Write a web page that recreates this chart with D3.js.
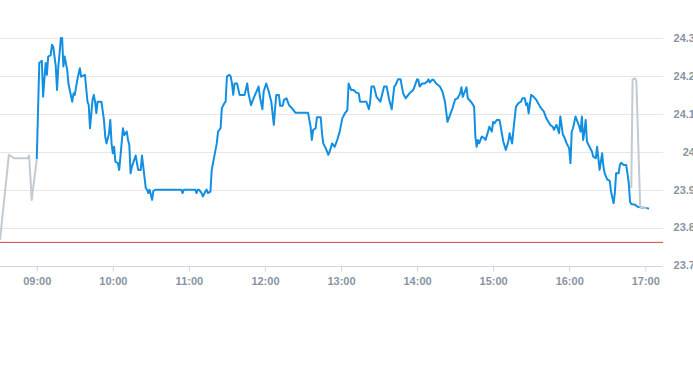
<!DOCTYPE html>
<html>
<head>
<meta charset="utf-8">
<script src="https://cdn.jsdelivr.net/npm/d3@7"></script>
<style>
  body { margin: 0; background: #fff; }
  svg { display: block; }
  .tick-label { font-family: "Liberation Sans", Arial, sans-serif; font-size: 11px; fill: #8794a3; font-weight: bold; }
</style>
</head>
<body>
<script>
// main session (blue)
const mainTimes = ["09:00","09:02","09:04","09:05","09:07","09:08","09:09","09:11","09:12","09:13","09:14","09:15","09:16","09:17","09:18","09:19","09:20","09:21","09:22","09:24","09:25","09:26","09:28","09:29","09:30","09:32","09:34","09:35","09:38","09:40","09:41","09:42","09:44","09:45","09:46","09:47","09:48","09:51","09:53","09:54","09:55","09:57","09:58","09:59","10:00","10:01","10:02","10:04","10:05","10:06","10:08","10:09","10:11","10:12","10:13","10:14","10:15","10:16","10:18","10:20","10:22","10:23","10:26","10:27","10:28","10:29","10:31","10:32","10:34","10:54","10:55","10:56","11:05","11:06","11:07","11:08","11:10","11:11","11:13","11:14","11:15","11:17","11:18","11:20","11:22","11:23","11:25","11:26","11:28","11:29","11:30","11:32","11:33","11:34","11:35","11:36","11:38","11:40","11:44","11:46","11:47","11:49","11:51","11:55","11:56","11:58","11:59","12:01","12:03","12:05","12:07","12:08","12:09","12:11","12:12","12:14","12:15","12:17","12:19","12:22","12:24","12:34","12:36","12:37","12:38","12:40","12:41","12:44","12:45","12:46","12:48","12:50","12:51","12:53","12:55","12:57","12:59","13:01","13:03","13:05","13:06","13:08","13:10","13:12","13:14","13:15","13:20","13:22","13:23","13:24","13:26","13:28","13:31","13:34","13:36","13:38","13:40","13:42","13:43","13:45","13:47","13:49","13:51","13:54","13:57","13:58","14:00","14:01","14:02","14:04","14:06","14:08","14:09","14:10","14:12","14:13","14:15","14:18","14:20","14:22","14:24","14:25","14:28","14:30","14:32","14:34","14:35","14:36","14:39","14:40","14:43","14:45","14:46","14:47","14:48","14:49","14:51","14:53","14:54","14:56","14:57","14:59","15:00","15:01","15:03","15:05","15:06","15:08","15:10","15:12","15:13","15:15","15:16","15:18","15:20","15:22","15:23","15:25","15:26","15:27","15:28","15:30","15:32","15:34","15:37","15:40","15:42","15:45","15:47","15:48","15:50","15:52","15:53","15:55","15:56","15:58","16:00","16:01","16:02","16:03","16:05","16:06","16:08","16:09","16:10","16:11","16:12","16:13","16:14","16:16","16:18","16:19","16:21","16:22","16:23","16:24","16:26","16:27","16:28","16:30","16:32","16:33","16:35","16:36","16:37","16:39","16:40","16:41","16:43","16:45","16:47","16:48","16:49","16:52","16:54","16:57","17:00","17:03"];
const mainPrices = [23.98,24.234,24.24,24.145,24.234,24.203,24.251,24.255,24.282,24.277,24.251,24.225,24.163,24.225,24.26,24.3,24.3,24.225,24.251,24.216,24.18,24.163,24.132,24.154,24.15,24.19,24.22,24.198,24.203,24.132,24.123,24.062,24.137,24.15,24.132,24.102,24.132,24.132,24.084,24.04,24.022,24.048,24.084,24.022,23.996,24.013,23.974,23.97,23.952,23.987,24.062,24.044,24.053,24.031,24.018,23.943,23.96,23.97,23.99,23.952,23.952,23.99,23.904,23.9,23.891,23.9,23.873,23.897,23.9,23.9,23.891,23.9,23.9,23.891,23.9,23.9,23.891,23.882,23.895,23.9,23.891,23.895,23.952,23.987,24.022,24.053,24.062,24.115,24.128,24.132,24.198,24.203,24.198,24.18,24.15,24.18,24.18,24.15,24.15,24.18,24.154,24.123,24.141,24.172,24.145,24.112,24.159,24.18,24.159,24.132,24.071,24.115,24.15,24.15,24.121,24.121,24.137,24.141,24.123,24.112,24.103,24.103,24.066,24.031,24.057,24.062,24.091,24.091,24.049,24.022,24.009,23.992,24.0,24.022,24.013,24.031,24.053,24.088,24.101,24.11,24.18,24.163,24.163,24.156,24.154,24.132,24.132,24.112,24.132,24.172,24.172,24.145,24.132,24.172,24.172,24.137,24.112,24.172,24.176,24.191,24.191,24.154,24.141,24.154,24.163,24.172,24.191,24.19,24.172,24.18,24.18,24.185,24.191,24.183,24.19,24.19,24.18,24.172,24.159,24.132,24.079,24.088,24.115,24.138,24.141,24.154,24.17,24.145,24.17,24.141,24.13,24.119,24.04,24.013,24.031,24.022,24.04,24.036,24.031,24.053,24.066,24.053,24.079,24.075,24.084,24.084,24.066,24.027,24.005,24.027,24.049,24.022,24.057,24.119,24.128,24.132,24.141,24.141,24.123,24.128,24.101,24.15,24.145,24.137,24.119,24.106,24.088,24.071,24.066,24.058,24.071,24.049,24.093,24.045,24.04,24.022,24.009,23.97,24.053,24.062,24.093,24.084,24.066,24.053,24.093,24.031,24.053,24.084,24.027,24.013,24.0,23.987,23.983,24.013,23.983,23.952,23.996,23.961,23.943,23.927,23.923,23.895,23.864,23.891,23.943,23.943,23.965,23.971,23.965,23.965,23.917,23.868,23.862,23.86,23.855,23.853,23.852,23.85];

// pre / post trading (grey)
const preTimes = ["08:31","08:38","08:39","08:42","08:53","08:54","08:56","09:00"];
const prePrices = [23.767,23.992,23.99,23.983,23.983,23.99,23.873,23.98];
const postTimes = ["16:49","16:50","16:52","16:53","16:56","17:01"];
const postPrices = [23.904,24.19,24.194,24.185,23.855,23.85];

const prevClose = 23.761;

const xTickTimes = ["09:00","10:00","11:00","12:00","13:00","14:00","15:00","16:00","17:00"];
const yTicks = [23.7, 23.8, 23.9, 24.0, 24.1, 24.2, 24.3];

var width = 693, height = 365;
var plotW = 663, plotTop = 38, plotBottom = 265.5;

var parse = d3.timeParse("%H:%M");
var fmt = d3.timeFormat("%H:%M");

var x = d3.scaleTime()
    .domain([parse("08:31"), parse("17:14")])
    .range([0, plotW]);

var y = d3.scaleLinear()
    .domain([23.7, 24.3])
    .range([plotBottom, plotTop]);

var svg = d3.select("body")
    .append("svg")
    .attr("width", width)
    .attr("height", height);

svg.append("clipPath").attr("id", "plot")
    .append("rect").attr("x", 0).attr("y", 0).attr("width", plotW).attr("height", plotBottom + 2);

// grid
svg.append("g")
    .selectAll("line")
    .data(yTicks.slice(1))
    .join("line")
    .attr("x1", 0).attr("x2", plotW)
    .attr("y1", d => Math.round(y(d)) + 0.5)
    .attr("y2", d => Math.round(y(d)) + 0.5)
    .attr("stroke", "#e6e6e6");

// y labels on the right
svg.append("g")
    .selectAll("text")
    .data(yTicks)
    .join("text")
    .attr("class", "tick-label")
    .attr("x", 695)
    .attr("y", d => y(d))
    .attr("dy", "0.35em")
    .attr("text-anchor", "end")
    .text(d => String(+d.toFixed(1)));

// x axis
var xAxis = d3.axisBottom(x)
    .tickValues(xTickTimes.map(parse))
    .tickFormat(fmt)
    .tickSize(5)
    .tickPadding(6);

var gx = svg.append("g")
    .attr("transform", "translate(0," + (Math.round(plotBottom) + 0.5) + ")")
    .call(xAxis);
gx.select(".domain").attr("d", "M0,0H" + plotW).attr("stroke", "#ccd6eb");
gx.selectAll(".tick line").attr("stroke", "#ccd6eb");
gx.selectAll(".tick text").attr("class", "tick-label").attr("fill", null);

// previous close
svg.append("line")
    .attr("x1", 0).attr("x2", plotW)
    .attr("y1", y(prevClose)).attr("y2", y(prevClose))
    .attr("stroke", "#d0443e")
    .attr("stroke-width", 1);

var line = d3.line()
    .x(d => x(parse(d[0])))
    .y(d => y(d[1]));

var lines = svg.append("g").attr("clip-path", "url(#plot)");

lines.append("path")
    .datum(d3.zip(mainTimes, mainPrices))
    .attr("d", line)
    .attr("fill", "none")
    .attr("stroke", "#138fe2")
    .attr("stroke-width", 2)
    .attr("stroke-linejoin", "round");

[[preTimes, prePrices], [postTimes, postPrices]].forEach(function (s) {
    lines.append("path")
        .datum(d3.zip(s[0], s[1]))
        .attr("d", line)
        .attr("fill", "none")
        .attr("stroke", "#c2cad2")
        .attr("stroke-width", 2)
        .attr("stroke-linejoin", "round");
});
</script>
</body>
</html>
